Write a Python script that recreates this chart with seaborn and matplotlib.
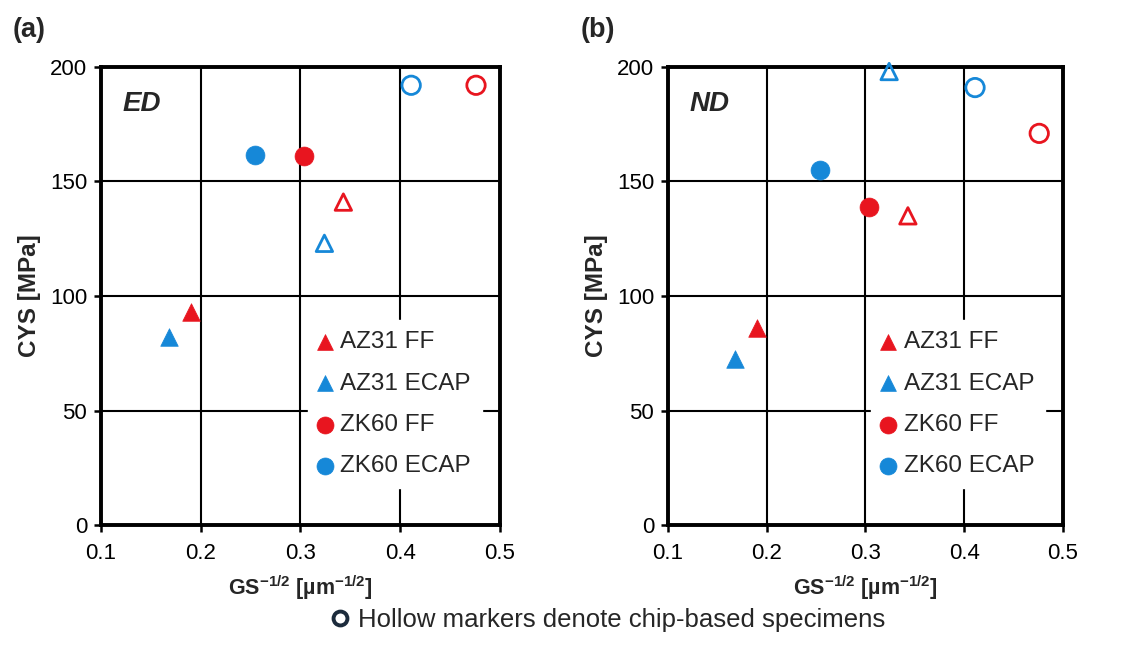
import numpy as np
import pandas as pd
import matplotlib
matplotlib.use("Agg")
import matplotlib.pyplot as plt
from matplotlib.lines import Line2D
import seaborn as sns

# series names and colours
series = ["AZ31 FF", "AZ31 ECAP", "ZK60 FF", "ZK60 ECAP"]
materials = ["AZ31", "AZ31", "ZK60", "ZK60"]

# GS^-1/2 values (same for both panels)
gs_bulk = [0.190, 0.168, 0.304, 0.254]
gs_chip = [0.343, 0.324, 0.476, 0.411]

# CYS values, panel (a) ED
cys_ed_bulk = [93, 82, 161, 161.5]
cys_ed_chip = [141, 123, 192, 192]

# CYS values, panel (b) ND
cys_nd_bulk = [86, 72.5, 139, 155]
cys_nd_chip = [135, 198, 171, 191]

RED = "#E8151F"
BLUE = "#1688D8"
colors = [RED, BLUE, RED, BLUE]
markers = {"AZ31": "^", "ZK60": "o"}

sns.set_theme(style="white")
plt.rcParams["font.family"] = ["Liberation Sans", "DejaVu Sans"]
plt.rcParams["mathtext.fontset"] = "custom"
plt.rcParams["mathtext.rm"] = "Liberation Sans"
plt.rcParams["mathtext.bf"] = "Liberation Sans:bold"

fig = plt.figure(figsize=(11.23, 6.61), dpi=100)
ax_a = fig.add_axes([0.0899, 0.2057, 0.3553, 0.693])
ax_b = fig.add_axes([0.5948, 0.2057, 0.3517, 0.693])


def draw_panel(ax, cys_bulk, cys_chip, tag, letter):
    bulk = pd.DataFrame({"gs": gs_bulk, "cys": cys_bulk, "name": series, "mat": materials})
    chip = pd.DataFrame({"gs": gs_chip, "cys": cys_chip, "name": series, "mat": materials})
    for i in range(len(series)):
        m = markers[materials[i]]
        s = 160 if m == "^" else 185
        sns.scatterplot(data=bulk.iloc[[i]], x="gs", y="cys", ax=ax, marker=m, s=s,
                        color=colors[i], edgecolor=colors[i], linewidth=0.5,
                        label=series[i], zorder=5, clip_on=False)
    for i in range(len(series)):
        m = markers[materials[i]]
        s = 140 if m == "^" else 175
        sns.scatterplot(data=chip.iloc[[i]], x="gs", y="cys", ax=ax, marker=m, s=s,
                        color=colors[i], facecolors="none", edgecolor=colors[i],
                        linewidth=2.0, zorder=5, clip_on=False)

    ax.set_xlim(0.1, 0.5)
    ax.set_ylim(0, 200)
    ax.set_xticks([0.1, 0.2, 0.3, 0.4, 0.5])
    ax.set_xticklabels(["0.1", "0.2", "0.3", "0.4", "0.5"])
    ax.set_yticks([0, 50, 100, 150, 200])
    ax.grid(True, color="black", linewidth=1.5)
    ax.set_axisbelow(True)
    for sp in ax.spines.values():
        sp.set_visible(True)
        sp.set_color("black")
        sp.set_linewidth(2.8)
    ax.tick_params(axis="both", direction="out", length=5, width=1.8, color="black",
                   labelsize=16, pad=5, colors="black")
    ax.tick_params(axis="x", bottom=True, pad=8)
    ax.tick_params(axis="y", left=True)

    ax.set_xlabel(r"GS$^{\mathbf{-1/2}}$ [µm$^{\mathbf{-1/2}}$]", fontsize=15.5,
                  fontweight="bold", labelpad=7)
    ax.set_ylabel("CYS [MPa]", fontsize=17.5, fontweight="bold", labelpad=6)

    ax.text(0.055, 0.92, tag, transform=ax.transAxes, fontsize=20, fontweight="bold",
            fontstyle="italic", ha="left", va="center")
    ax.text(-0.222, 1.08, letter, transform=ax.transAxes, fontsize=19.5,
            fontweight="bold", ha="left", va="center")

    leg = ax.legend(loc="lower right", bbox_to_anchor=(0.955, 0.08), fontsize=17.5,
                    frameon=True, fancybox=False, framealpha=1, facecolor="white",
                    edgecolor="white", handlelength=0.5, handletextpad=0.4,
                    labelspacing=0.8, borderpad=0.45, markerscale=0.9,
                    borderaxespad=0)
    leg.set_zorder(4)


draw_panel(ax_a, cys_ed_bulk, cys_ed_chip, "ED", "(a)")
draw_panel(ax_b, cys_nd_bulk, cys_nd_chip, "ND", "(b)")

hollow = Line2D([], [], marker="o", linestyle="none", markerfacecolor="none",
                markeredgecolor="#1C2B3C", markeredgewidth=2.8, markersize=10)
fig.legend(handles=[hollow], labels=["Hollow markers denote chip-based specimens"],
           loc="center", bbox_to_anchor=(0.541, 0.062), frameon=False, fontsize=18.5,
           handlelength=0.8, handletextpad=0.3)

fig.savefig("out.png", dpi=100)
